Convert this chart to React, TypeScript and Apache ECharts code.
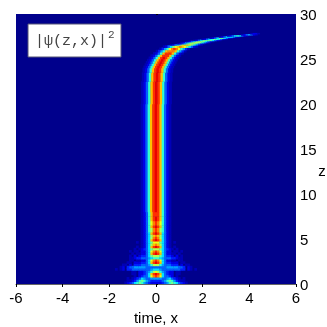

import React, { useEffect, useRef } from "react";
import * as echarts from "echarts";

const xTicks = [-6, -4, -2, 0, 2, 4, 6];
const zTicks = [0, 5, 10, 15, 20, 25, 30];
const xTitle = "time, x";
const zTitle = "z";
const boxLabel = "|ψ(z,x)|";
const boxPower = "2";
const cellW = 0.1;
const palette = ["#00008c","#0000b8","#0000e6","#0020ff","#0060ff","#00a0ff","#00e0ff","#30ffd0","#70ff90","#b0ff50","#f0ff10","#ffc000","#ff8000","#ff3000","#e80000","#a00000"];

// Symmetric rows: z from, z to, levels from x=0 outwards
const lowerRows: [number, number, string][] = [
  [0, 0.25, "2223457876432100"],
  [0.25, 0.5, "3334578753211"],
  [0.5, 0.75, "55544564321 1"],
  [0.75, 1, "dca64432 1"],
  [1, 1.25, "edb64322 11"],
  [1.25, 1.5, "a9754322 11"],
  [1.5, 1.75, "6654444444433 21 1"],
  [1.75, 2, "4444455555443 21"],
  [2, 2.25, "9975444333 2 11"],
  [2.25, 2.5, "edb6433222 11"],
  [2.5, 2.75, "dca642211 11"],
  [2.75, 3, "776544433211"],
  [3, 3.25, "99864332 2 1"],
  [3.25, 3.5, "edb642211 1"],
  [3.5, 3.75, "dca6422 11 1"],
  [3.75, 4, "99864321 1"],
  [4, 4.25, "edb6421 1"],
  [4.25, 4.5, "cb96421"],
  [4.5, 4.75, "aa86421 1"],
  [4.75, 5, "edb6421"],
  [5, 5.25, "dc96421"],
  [5.25, 5.5, "cb96421"],
  [5.5, 5.75, "edb6421"],
  [5.75, 6.25, "dc97421"],
  [6.25, 6.5, "edb7421"],
  [6.5, 7, "dca7421"],
  [7, 7.5, "edb7421"],
  [7.5, 8, "ddb7421"],
];

// Full rows: z from, z to, first x, levels
const upperRows: [number, number, number, string][] = [
  [8, 20, -0.6, "1247bdedb7421"],
  [20, 22.5, -0.58, "1247bdedb7421"],
  [22.5, 23.5, -0.55, "1247bdedb7421"],
  [23.5, 24, -0.52, "1247bdedb7421"],
  [24, 24.25, -0.48, "1247bdedb7421"],
  [24.25, 24.5, -0.43, "1247bdedb7421"],
  [24.5, 24.75, -0.38, "1247bdedb7421"],
  [24.75, 25, -0.33, "1247bdedb7421"],
  [25, 25.25, -0.26, "1247bdedb7421"],
  [25.25, 25.5, -0.18, "1247bdddb7421"],
  [25.5, 25.75, -0.07, "1247bdddb7421"],
  [25.75, 26, 0.05, "1357bcccb7531"],
  [26, 26.25, 0.2, "1357acdca7531"],
  [26.25, 26.5, 0.35, "12468abcba86421"],
  [26.5, 26.625, 0.65, "12468abba86421"],
  [26.625, 26.75, 0.95, "124689986421"],
  [26.75, 26.875, 1.1, "124689a986421"],
  [26.875, 27, 1.35, "124689986421"],
  [27, 27.125, 1.65, "124688886421"],
  [27.125, 27.25, 2.0, "1246787 6421"],
  [27.25, 27.375, 2.35, "124688 6421"],
  [27.375, 27.5, 2.75, "124666 421"],
  [27.5, 27.625, 3.1, "12467 6421"],
  [27.625, 27.75, 3.7, "124 5421"],
  [27.75, 27.875, 4.1, "1221"],
];

function cells() {
  const out: number[][] = [];
  const add = (z0: number, z1: number, x: number, level: string) => {
    const v = parseInt(level, 16);
    if (v > 0) out.push([x, x + cellW, z0, z1, v]);
  };
  for (const [z0, z1, half] of lowerRows) {
    [...half].forEach((c, i) => {
      if (c === " ") return;
      add(z0, z1, i * cellW - cellW / 2, c);
      if (i > 0) add(z0, z1, -i * cellW - cellW / 2, c);
    });
  }
  for (const [z0, z1, x0, s] of upperRows) {
    [...s.replace(/ /g, "")].forEach((c, i) => add(z0, z1, x0 + i * cellW - cellW / 2, c));
  }
  return out;
}

export default function App() {
  const ref = useRef<HTMLDivElement>(null);
  useEffect(() => {
    document.body.style.margin = "0";
    const chart = echarts.init(ref.current!, null, { renderer: "svg" });
    const font = "'Liberation Sans', Arial, sans-serif";
    chart.setOption({
      animation: false,
      backgroundColor: "#ffffff",
      grid: { left: 16, top: 14, width: 280, height: 270, show: true, backgroundColor: palette[0], borderWidth: 0, outerBoundsMode: "none", containLabel: false },
      xAxis: {
        type: "value", min: xTicks[0], max: xTicks[xTicks.length - 1], interval: 2,
        name: xTitle, nameLocation: "middle", nameGap: 25,
        nameTextStyle: { color: "#000", fontFamily: font, fontSize: 15 },
        axisLine: { show: true, onZero: false, lineStyle: { color: "#666", width: 1 } },
        axisTick: { show: true, length: 3, inside: false, lineStyle: { color: "#000" } },
        axisLabel: { color: "#000", fontFamily: font, fontSize: 15, margin: 6 },
        splitLine: { show: false },
      },
      yAxis: {
        type: "value", position: "right", min: zTicks[0], max: zTicks[zTicks.length - 1], interval: 5,
        axisLine: { show: false },
        axisTick: { show: true, length: 2, inside: false, lineStyle: { color: "#000" } },
        axisLabel: { color: "#000", fontFamily: font, fontSize: 15, margin: 4 },
        splitLine: { show: false },
      },
      series: [{
        type: "custom",
        coordinateSystem: "cartesian2d",
        clip: true,
        data: cells(),
        encode: { x: [0, 1], y: [2, 3] },
        renderItem: (_: any, api: any) => {
          const a = api.coord([api.value(0), api.value(3)]);
          const b = api.coord([api.value(1), api.value(2)]);
          return {
            type: "rect",
            shape: { x: a[0] - 0.2, y: a[1] - 0.2, width: b[0] - a[0] + 0.4, height: b[1] - a[1] + 0.4 },
            style: { fill: palette[api.value(4)] },
          };
        },
      }],
      graphic: [
        { type: "rect", z: 10, shape: { x: 28, y: 24, width: 93, height: 33 }, style: { fill: "#fff", stroke: "#555577", lineWidth: 1 } },
        { type: "text", z: 11, x: 35, y: 34, style: { text: boxLabel, fill: "#444", fontFamily: "'Liberation Mono', monospace", fontSize: 15 } },
        { type: "text", z: 11, x: 108, y: 29, style: { text: boxPower, fill: "#444", fontFamily: "'Liberation Mono', monospace", fontSize: 11 } },
        { type: "text", z: 11, x: 322, y: 170, style: { text: zTitle, fill: "#000", fontFamily: font, fontSize: 15, align: "center", verticalAlign: "middle" } },
      ],
    });
    return () => chart.dispose();
  }, []);
  return <div ref={ref} style={{ width: 327, height: 327, filter: "blur(0.55px)" }} />;
}
